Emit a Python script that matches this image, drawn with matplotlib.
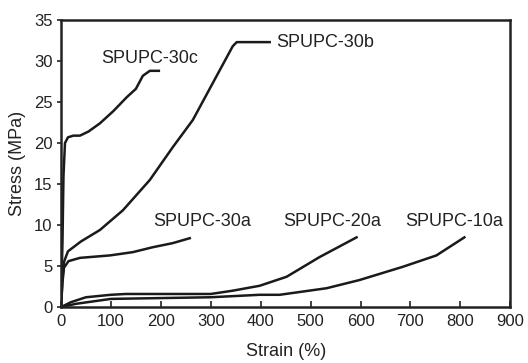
import numpy as np
import matplotlib.pyplot as plt

plt.rcParams['font.family'] = ['Liberation Sans', 'DejaVu Sans']

# strain (%) / stress (MPa)
x_30c = [0, 3, 5, 8, 14, 25, 38, 55, 78, 105, 132, 150, 164, 178, 196]
y_30c = [0, 8, 16, 20, 20.7, 20.9, 20.9, 21.4, 22.4, 23.9, 25.6, 26.6, 28.2, 28.8, 28.8]

x_30b = [0, 3, 6, 14, 40, 78, 124, 178, 224, 264, 304, 344, 352, 418]
y_30b = [0, 3.5, 5.5, 6.8, 8.0, 9.4, 11.8, 15.5, 19.5, 22.8, 27.3, 31.8, 32.3, 32.3]

x_30a = [0, 3, 6, 15, 38, 98, 144, 184, 224, 258]
y_30a = [0, 3, 4.8, 5.6, 6.0, 6.3, 6.7, 7.3, 7.8, 8.4]

x_20a = [0, 20, 50, 100, 130, 200, 300, 344, 398, 452, 518, 592]
y_20a = [0, 0.6, 1.2, 1.5, 1.6, 1.6, 1.6, 2.0, 2.6, 3.7, 6.1, 8.5]

x_10a = [0, 30, 100, 200, 300, 398, 438, 532, 598, 684, 752, 808]
y_10a = [0, 0.4, 1.0, 1.1, 1.2, 1.5, 1.5, 2.3, 3.3, 4.9, 6.3, 8.5]

series = [(x_30c, y_30c), (x_30b, y_30b), (x_30a, y_30a), (x_20a, y_20a), (x_10a, y_10a)]
labels = ['SPUPC-30c', 'SPUPC-30b', 'SPUPC-30a', 'SPUPC-20a', 'SPUPC-10a']
label_pos = [(178, 30.3, 'center'), (432, 32.3, 'left'), (282, 10.4, 'center'),
             (544, 10.4, 'center'), (788, 10.4, 'center')]

fig = plt.figure(figsize=(5.28, 3.63), dpi=100)
ax = fig.add_axes([0.1155, 0.154, 0.851, 0.791])

for (xs, ys) in series:
    ax.plot(xs, ys, color='#1a1a1a', lw=1.8, solid_joinstyle='round')

for lab, (lx, ly, ha) in zip(labels, label_pos):
    ax.text(lx, ly, lab, ha=ha, va='center', fontsize=13, color='#222222')

ax.set_xlim(0, 900)
ax.set_ylim(0, 35)
ax.set_xticks(np.arange(0, 901, 100))
ax.set_yticks(np.arange(0, 36, 5))
ax.tick_params(axis='x', direction='in', length=4, width=1.2, pad=5,
               labelsize=12, colors='#222222')
ax.tick_params(axis='y', direction='out', length=3, width=1.2, pad=3,
               labelsize=12, colors='#222222')
for s in ax.spines.values():
    s.set_linewidth(1.8)
    s.set_color('#222222')

ax.set_xlabel('Strain (%)', fontsize=13, color='#222222', labelpad=10)
ax.set_ylabel('Stress (MPa)', fontsize=13, color='#222222', labelpad=6)

fig.savefig('out.png', dpi=100)
